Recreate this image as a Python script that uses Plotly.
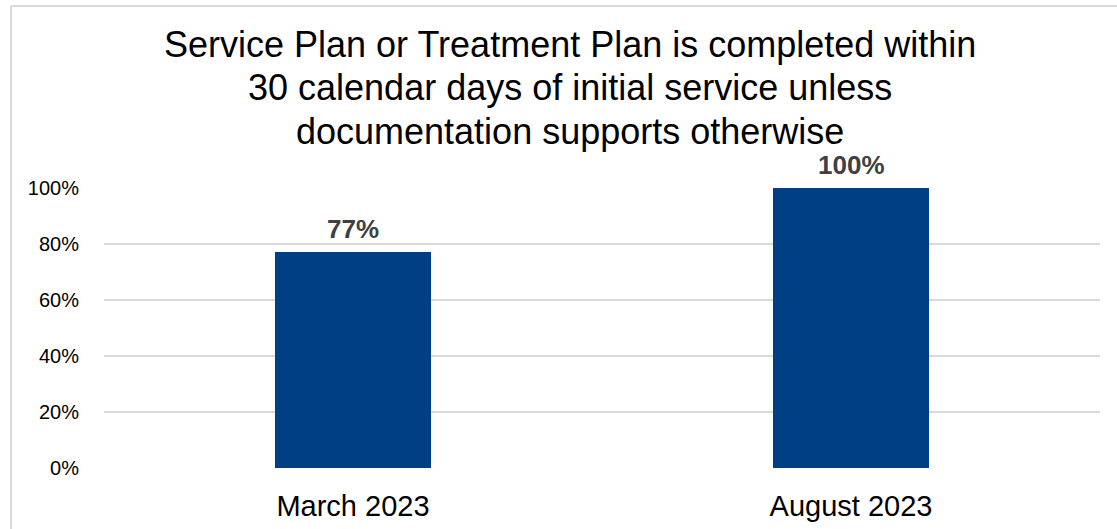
import plotly.graph_objects as go

# Chart data
periods = ["March 2023", "August 2023"]
completion_pct = [77, 100]
y_ticks = [0, 20, 40, 60, 80, 100]
y_tick_labels = ["0%", "20%", "40%", "60%", "80%", "100%"]
title_lines = [
    "Service Plan or Treatment Plan is completed within",
    "30 calendar days of initial service unless",
    "documentation supports otherwise",
]

W, H = 1117, 529
M_L, M_R, M_T, M_B = 104, 17, 188, 61
plot_w = W - M_L - M_R
plot_h = H - M_T - M_B
FONT = "Liberation Sans, Arial"


def px_x(px):
    return (px - M_L) / plot_w


def px_y(py):
    return (H - M_B - py) / plot_h


fig = go.Figure(
    go.Bar(
        x=periods,
        y=completion_pct,
        width=0.313,
        marker=dict(color="#003F84", line=dict(width=0)),
        hoverinfo="x+y",
    )
)

# Value labels above each bar
for p, v in zip(periods, completion_pct):
    fig.add_annotation(
        x=p, y=v, text=f"{v}%",
        xref="x", yref="y",
        xanchor="center", yanchor="bottom",
        yshift=6, showarrow=False,
        font=dict(family=FONT, size=26, color="#404040", weight="bold"),
    )

# Outer frame (left and top edges visible)
fig.add_shape(type="line", xref="paper", yref="paper",
              x0=px_x(11), x1=px_x(11), y0=px_y(6), y1=px_y(540),
              line=dict(color="#d9d9d9", width=2))
fig.add_shape(type="line", xref="paper", yref="paper",
              x0=px_x(11), x1=px_x(1130), y0=px_y(6), y1=px_y(6),
              line=dict(color="#d9d9d9", width=2))

# Title, one line per annotation for tight line spacing
for i, line in enumerate(title_lines):
    fig.add_annotation(
        text=line,
        xref="paper", yref="paper",
        x=px_x(570), y=px_y(44 + 43.5 * i),
        xanchor="center", yanchor="middle",
        showarrow=False,
        font=dict(family=FONT, size=36, color="#000000"),
    )

fig.update_layout(
    width=W, height=H,
    margin=dict(l=M_L, r=M_R, t=M_T, b=M_B, autoexpand=False),
    paper_bgcolor="white",
    plot_bgcolor="white",
    showlegend=False,
    bargap=0,
    xaxis=dict(
        range=[-0.5, 1.5],
        automargin=False,
        showgrid=False,
        showline=False,
        ticks="outside",
        ticklen=12,
        tickcolor="rgba(0,0,0,0)",
        tickfont=dict(family=FONT, size=29, color="#000000"),
    ),
    yaxis=dict(
        range=[0, 100],
        automargin=False,
        tickvals=y_ticks,
        ticktext=y_tick_labels,
        showgrid=True,
        gridcolor="#d9d9d9",
        gridwidth=2,
        zeroline=False,
        showline=False,
        ticks="outside",
        ticklen=20,
        tickcolor="rgba(0,0,0,0)",
        tickfont=dict(family=FONT, size=20, color="#000000"),
    ),
)

fig.write_html("out.html")
